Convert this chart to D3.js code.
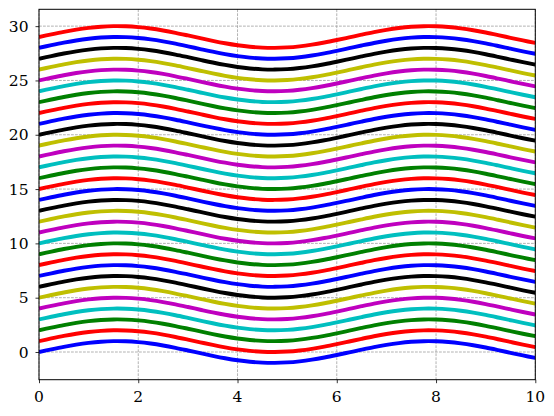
<!DOCTYPE html>
<html><head><meta charset="utf-8">
<script src="https://cdn.jsdelivr.net/npm/d3@7"></script>
<style>html,body{margin:0;padding:0;background:#fff;}
svg text{font-family:"DejaVu Serif";font-size:15.5px;}</style>
</head><body>
<svg id="chart" width="554" height="416"></svg>
<script>
const xValues = [0,0.25,0.5,0.75,1,1.25,1.5,1.75,2,2.25,2.5,2.75,3,3.25,3.5,3.75,4,4.25,4.5,4.75,5,5.25,5.5,5.75,6,6.25,6.5,6.75,7,7.25,7.5,7.75,8,8.25,8.5,8.75,9,9.25,9.5,9.75,10];
const baseWave = [0,0.247,0.479,0.682,0.841,0.949,0.997,0.984,0.909,0.778,0.598,0.382,0.141,-0.108,-0.351,-0.572,-0.757,-0.895,-0.978,-0.999,-0.959,-0.859,-0.706,-0.508,-0.279,-0.033,0.215,0.451,0.657,0.823,0.938,0.995,0.989,0.923,0.798,0.624,0.412,0.174,-0.075,-0.319,-0.544];
const offsets = [0,1,2,3,4,5,6,7,8,9,10,11,12,13,14,15,16,17,18,19,20,21,22,23,24,25,26,27,28,29];
const colorCycle = ["#0000ff","#ff0000","#008000","#00bfbf","#bf00bf","#bfbf00","#000000"];
const xTicks = [0,2,4,6,8,10];
const yTicks = [0,5,10,15,20,25,30];

const svg = d3.select("#chart");
const L = 39, R = 535.3, T = 9.3, B = 379.7;
const x = d3.scaleLinear().domain([0,10]).range([L,R]);
const y = d3.scaleLinear().domain([-2.55,31.55]).range([B,T]);

svg.append("defs").append("clipPath").attr("id","clip")
  .append("rect").attr("x",L).attr("y",T).attr("width",R-L).attr("height",B-T);

const grid = svg.append("g");
grid.selectAll(".gx").data(xTicks).join("line")
  .attr("x1",d=>x(d)).attr("x2",d=>x(d)).attr("y1",T).attr("y2",B)
  .attr("stroke","#a0a0a0").attr("stroke-width",0.8).attr("stroke-dasharray","2.8,1.2");
grid.selectAll(".gy").data(yTicks).join("line")
  .attr("y1",d=>y(d)).attr("y2",d=>y(d)).attr("x1",L).attr("x2",R)
  .attr("stroke","#a0a0a0").attr("stroke-width",0.8).attr("stroke-dasharray","2.8,1.2");

const line = d3.line().x((d,i)=>x(xValues[i])).y(d=>y(d)).curve(d3.curveCatmullRom);
svg.append("g").attr("clip-path","url(#clip)")
  .selectAll("path").data(offsets).join("path")
  .attr("d",o=>line(baseWave.map(v=>v+o)))
  .attr("fill","none")
  .attr("stroke",(o,i)=>colorCycle[i%colorCycle.length])
  .attr("stroke-width",3.9);

const xAxis = svg.append("g").attr("transform",`translate(0,${B})`)
  .call(d3.axisBottom(x).tickValues(xTicks).tickSize(3.5).tickFormat(""));
const yAxis = svg.append("g").attr("transform",`translate(${L},0)`)
  .call(d3.axisLeft(y).tickValues(yTicks).tickSize(3.5).tickFormat(""));
[xAxis,yAxis].forEach(a=>{
  a.select(".domain").remove();
  a.selectAll("line").attr("stroke","#000").attr("stroke-width",0.8);
});
const lab = svg.append("g").attr("class","labels");
lab.selectAll("text.xl").data(xTicks).join("text").attr("class","xl")
  .attr("x",d=>x(d)).attr("y",B+22)
  .attr("text-anchor","middle").attr("fill","#000")
  .text(d=>String(d));
lab.selectAll("text.yl").data(yTicks).join("text").attr("class","yl")
  .attr("x",L-10.5).attr("y",d=>y(d)+5.6)
  .attr("text-anchor","end").attr("fill","#000")
  .text(d=>String(d));
svg.append("rect").attr("x",L).attr("y",T).attr("width",R-L).attr("height",B-T)
  .attr("fill","none").attr("stroke","#000").attr("stroke-width",1);
</script>
</body></html>
